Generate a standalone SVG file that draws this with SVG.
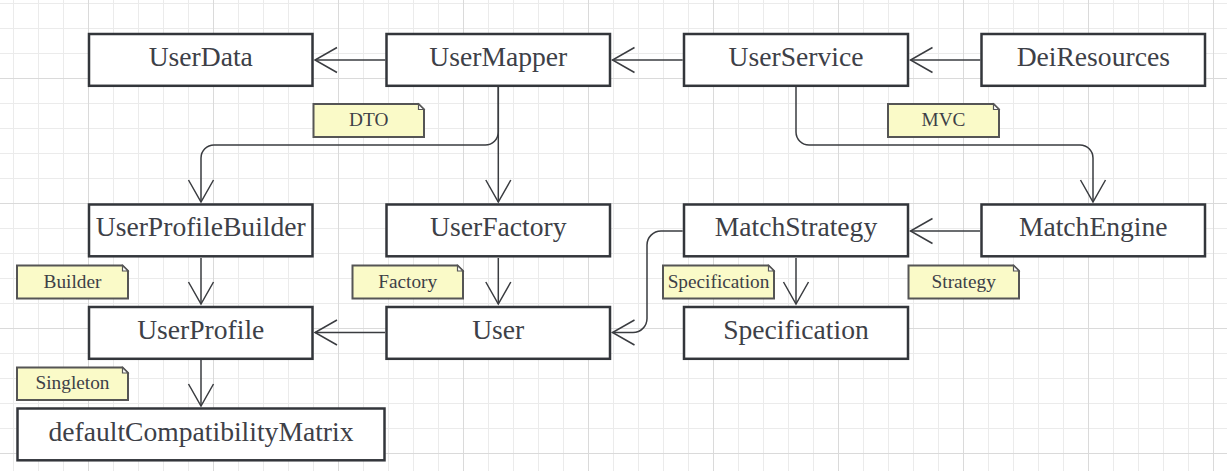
<svg xmlns="http://www.w3.org/2000/svg" width="1227" height="471" viewBox="0 0 1227 471">
<defs>
<pattern id="grid" patternUnits="userSpaceOnUse" x="13" y="3" width="125" height="125">
<path d="M0.5,0V125M25.5,0V125M50.5,0V125M100.5,0V125M0,0.5H125M0,25.5H125M0,50.5H125M0,100.5H125" stroke="#ebebeb" stroke-width="1" fill="none"/>
<path d="M75.5,0V125M0,75.5H125" stroke="#dadada" stroke-width="1" fill="none"/>
</pattern>
<marker id="arr" markerUnits="userSpaceOnUse" orient="auto" refX="0" refY="0" markerWidth="30" markerHeight="30" overflow="visible">
<path d="M-22,-12.5L0,0L-22,12.5" fill="none" stroke="#3a3c40" stroke-width="1.5"/>
</marker>
</defs>
<style>
.box{fill:#ffffff;stroke:#33363b;stroke-width:2.5}
.lbl{font-family:"Liberation Serif","Times New Roman",serif;font-size:27.6px;fill:#3d4047;text-anchor:middle}
.note{fill:#fafac8;stroke:#555555;stroke-width:2}
.fold{fill:#ffffff;stroke:#555555;stroke-width:1.2}
.ntxt{font-family:"Liberation Serif","Times New Roman",serif;font-size:19.3px;fill:#3d4047;text-anchor:middle}
.con{fill:none;stroke:#3a3c40;stroke-width:1.5;marker-end:url(#arr)}
</style>
<rect width="1227" height="471" fill="#ffffff"/>
<rect width="1227" height="471" fill="url(#grid)"/>

<g id="connectors">
<path class="con" d="M385.3,60L315,60"/>
<path class="con" d="M682.7,60L612.5,60"/>
<path class="con" d="M980.3,60L910.5,60"/>
<path class="con" d="M498.3,87L498.3,202"/>
<path class="con" d="M498.3,87L498.3,132A13,13 0 0 1 485.3,145L214,145A13,13 0 0 0 201,158L201,202"/>
<path class="con" d="M796,87L796,132A13,13 0 0 0 809,145L1080,145A13,13 0 0 1 1093,158L1093,202"/>
<path class="con" d="M980,231L910.5,231"/>
<path class="con" d="M796,258L796,304"/>
<path class="con" d="M682.7,231L661,231A14,14 0 0 0 647,245L647,318.5A14,14 0 0 1 633,332.5L612.5,332.5"/>
<path class="con" d="M201,258L201,304"/>
<path class="con" d="M498.3,258L498.3,304"/>
<path class="con" d="M385,332.5L315,332.5"/>
<path class="con" d="M201,360L201,406"/>
</g>

<g id="UserData"><rect class="box" x="89" y="34" width="223.5" height="51.8"/><text class="lbl" x="200.75" y="65.7">UserData</text></g>
<g id="UserMapper"><rect class="box" x="386.5" y="34" width="223.5" height="51.8"/><text class="lbl" x="498.25" y="65.7">UserMapper</text></g>
<g id="UserService"><rect class="box" x="684" y="34" width="224" height="51.8"/><text class="lbl" x="796" y="65.7">UserService</text></g>
<g id="DeiResources"><rect class="box" x="981.5" y="34" width="223.5" height="51.8"/><text class="lbl" x="1093.25" y="65.7">DeiResources</text></g>

<g id="UserProfileBuilder"><rect class="box" x="89" y="204.5" width="223.5" height="51.8"/><text class="lbl" x="200.75" y="236.3">UserProfileBuilder</text></g>
<g id="UserFactory"><rect class="box" x="386.5" y="204.5" width="223.5" height="51.8"/><text class="lbl" x="498.25" y="236.3">UserFactory</text></g>
<g id="MatchStrategy"><rect class="box" x="684" y="204.5" width="224" height="51.8"/><text class="lbl" x="796" y="236.3">MatchStrategy</text></g>
<g id="MatchEngine"><rect class="box" x="981.5" y="204.5" width="223.5" height="51.8"/><text class="lbl" x="1093.25" y="236.3">MatchEngine</text></g>

<g id="UserProfile"><rect class="box" x="89" y="307" width="223.5" height="51.8"/><text class="lbl" x="200.75" y="338.7">UserProfile</text></g>
<g id="User"><rect class="box" x="386.5" y="307" width="223.5" height="51.8"/><text class="lbl" x="498.25" y="338.7">User</text></g>
<g id="Specification"><rect class="box" x="684" y="307" width="224" height="51.8"/><text class="lbl" x="796" y="338.7">Specification</text></g>

<g id="defaultCompatibilityMatrix"><rect class="box" x="17.5" y="408.5" width="367" height="51.8"/><text class="lbl" x="201" y="440.5">defaultCompatibilityMatrix</text></g>

<g id="note-DTO"><path class="note" d="M313.5,104H418.5L424,109.5V137H313.5Z"/><path class="fold" d="M418.5,104V109.5H424Z"/><text class="ntxt" x="368.7" y="126">DTO</text></g>
<g id="note-MVC"><path class="note" d="M888,104H993.5L999,109.5V137H888Z"/><path class="fold" d="M993.5,104V109.5H999Z"/><text class="ntxt" x="943.5" y="126">MVC</text></g>
<g id="note-Builder"><path class="note" d="M17,265.5H122.5L128,271V298.5H17Z"/><path class="fold" d="M122.5,265.5V271H128Z"/><text class="ntxt" x="72.5" y="287.5">Builder</text></g>
<g id="note-Factory"><path class="note" d="M352.5,265.5H457.5L463,271V298.5H352.5Z"/><path class="fold" d="M457.5,265.5V271H463Z"/><text class="ntxt" x="407.7" y="287.5">Factory</text></g>
<g id="note-Specification"><path class="note" d="M663,265.5H768.5L774,271V298.5H663Z"/><path class="fold" d="M768.5,265.5V271H774Z"/><text class="ntxt" x="718.5" y="287.5">Specification</text></g>
<g id="note-Strategy"><path class="note" d="M908.5,265.5H1013.5L1019,271V298.5H908.5Z"/><path class="fold" d="M1013.5,265.5V271H1019Z"/><text class="ntxt" x="963.7" y="287.5">Strategy</text></g>
<g id="note-Singleton"><path class="note" d="M17,367.5H122.5L128,373V400H17Z"/><path class="fold" d="M122.5,367.5V373H128Z"/><text class="ntxt" x="72.5" y="389.3">Singleton</text></g>
</svg>
